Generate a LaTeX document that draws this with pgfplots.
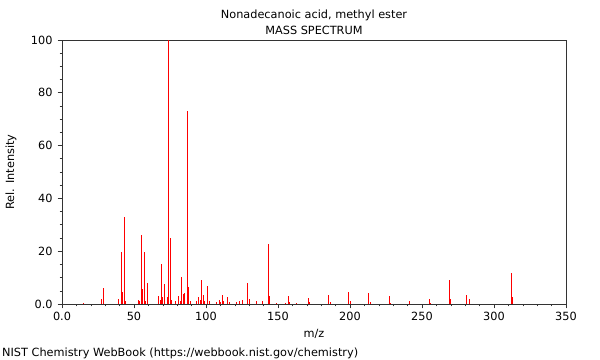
\documentclass[border=0pt]{standalone}
\usepackage{fontspec}
\setmainfont{DejaVu Sans}
\usepackage{pgfplots}
\pgfplotsset{compat=1.18}
\pgfplotstableread{
mz I
15 0.5
27 1.8
29 5.9
39 2.0
41 19.6
42 4.7
43 33
44 1.0
53 1.5
54 1.2
55 26
56 5.6
57 19.6
58 1.0
59 8
67 3
68 1.5
69 15
70 2.5
71 7.6
73 2.5
74 100
75 25
76 1.5
79 1
81 3
82 1
83 10.3
84 3.7
85 4
87 73
88 6.3
89 1
93 1
95 2.5
96 1.5
97 9
98 3.5
99 1
101 6.8
102 1
107 0.8
109 1.5
110 0.8
111 3.5
112 1
115 2.7
116 0.8
121 0.8
123 1
125 1.5
129 8
130 2
135 1
139 1
143 22.7
144 3
149 0.5
155 0.5
157 3
158 0.8
163 0.4
171 2.2
172 0.6
185 3.4
186 0.8
199 4.5
200 1
213 4
214 0.8
227 3
228 0.5
241 1.3
255 2
256 0.4
269 9
270 2
281 3.5
283 2
312 11.9
313 2.7
}\spec
\begin{document}
\fontsize{11.3bp}{13bp}\selectfont
\begin{tikzpicture}
\path[use as bounding box] (0,0) rectangle (600bp,360bp);
\begin{axis}[
  at={(62bp,56bp)}, anchor=south west,
  scale only axis, width=504bp, height=264bp,
  xmin=0, xmax=350, ymin=0, ymax=100,
  xtick={0,50,...,350}, xticklabels={0.0,50,100,150,200,250,300,350},
  ytick={0,20,...,100}, yticklabels={0.0,20,40,60,80,100},
  minor x tick num=4, minor y tick num=3,
  tick align=outside, tick pos=left,
  major tick length=4.5bp, minor tick length=2.5bp,
  every tick/.style={black!80, line width=0.6pt},
  axis line style={black!80, line width=0.7pt},
  ticklabel style={font=\fontsize{11.3bp}{13bp}\selectfont},
  yticklabel style={xshift=-1bp},
  /pgf/number format/assume math mode=true,
  clip=false,
]
\addplot[ycomb, red, line width=0.65bp, mark=none] table[x=mz,y=I] {\spec};
\end{axis}
\node[anchor=base] at (314bp,23bp) {m/z};
\node[rotate=90, anchor=base] at (14bp,188bp) {Rel. Intensity};
\node[anchor=base] at (314bp,341bp) {Nonadecanoic acid, methyl ester};
\node[anchor=base] at (314bp,325bp) {MASS SPECTRUM};
\node[anchor=base west, inner sep=0pt] at (2bp,3.3bp) {NIST Chemistry WebBook (https://webbook.nist.gov/chemistry)};
\end{tikzpicture}
\end{document}
